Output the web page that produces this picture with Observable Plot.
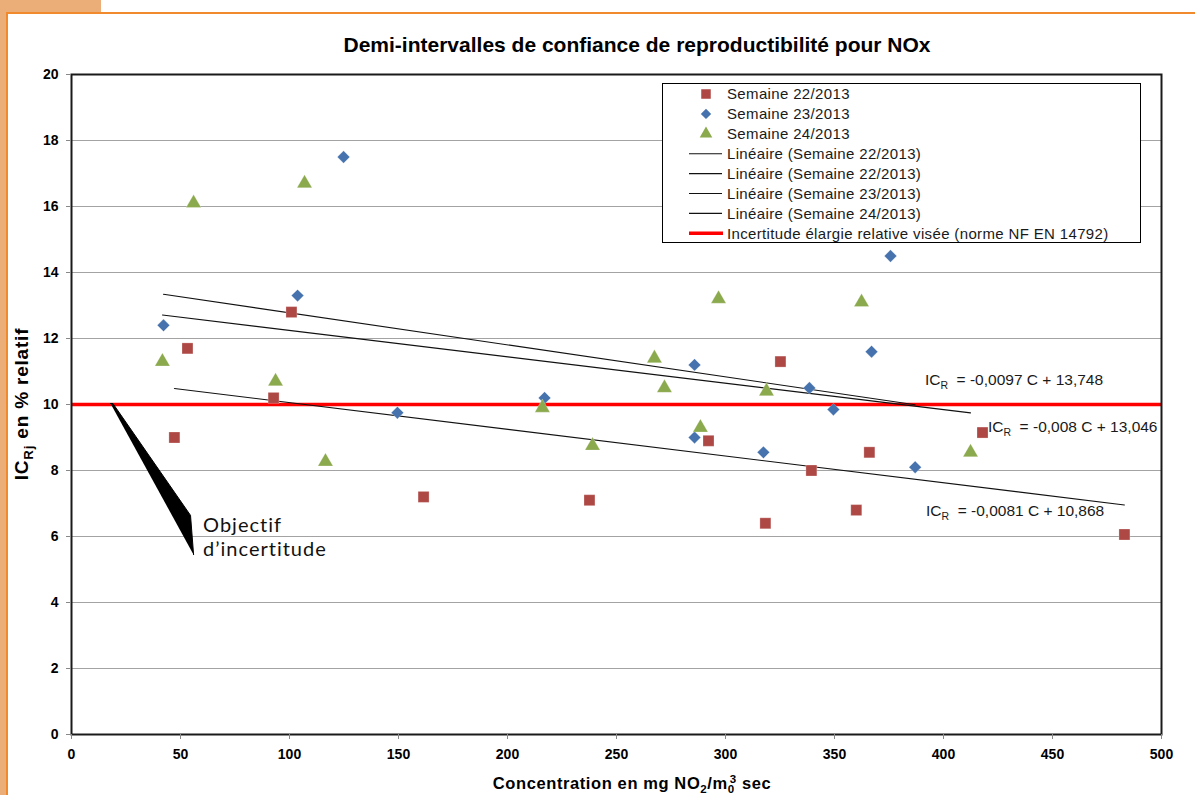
<!DOCTYPE html>
<html>
<head>
<meta charset="utf-8">
<script src="https://cdn.jsdelivr.net/npm/d3@7"></script>
<script src="https://cdn.jsdelivr.net/npm/@observablehq/plot@0.6"></script>
<style>
  body { margin: 0; background: #fff; }
  #wrap { position: relative; width: 1195px; height: 795px; overflow: hidden; background: #fff;
          font-family: "Liberation Sans", Arial, sans-serif; color: #000; }
  .dec { position: absolute; }
  #chart { position: absolute; left: 0; top: 0; }
  #title { position: absolute; left: 287px; width: 700px; top: 33px; text-align: center;
           font-weight: bold; font-size: 21px; line-height: 24px; white-space: nowrap; }
  #xlabel { position: absolute; left: 382px; width: 500px; top: 772px; text-align: center;
            font-weight: bold; font-size: 16.5px; letter-spacing: 0.6px; line-height: 22px; white-space: nowrap; }
  #ylabel { position: absolute; left: -128px; top: 393px; width: 300px; height: 22px; line-height: 22px;
            text-align: center; font-weight: bold; font-size: 19px; letter-spacing: 0.8px;
            transform: rotate(-90deg); white-space: nowrap; }
  sub, sup { font-size: 70%; line-height: 0; }
</style>
</head>
<body>
<div id="wrap">
  <div class="dec" style="left:0;top:0;width:101px;height:13px;background:#EBAE78"></div>
  <div class="dec" style="left:0;top:0;width:6px;height:795px;background:#EBAE78"></div>
  <div class="dec" style="left:6px;top:12px;width:1189px;height:2px;background:#F08A2C"></div>
  <div class="dec" style="left:6px;top:12px;width:2px;height:783px;background:#F08A2C"></div>
  <div id="chart"></div>
  <div id="title">Demi-intervalles de confiance de reproductibilité pour NOx</div>
  <div id="xlabel">Concentration en mg NO<sub>2</sub>/m<sub>0</sub><sup style="margin-left:-0.45em">3</sup> sec</div>
  <div id="ylabel">IC<sub>Rj</sub> en % relatif</div>
</div>
<script>
// ---- Data ----
const c22  = [47.2, 53.2, 92.7, 100.9, 161.5, 237.6, 292.2, 318.3, 325.2, 339.4, 360.0, 366.0, 417.9, 483.0];
const ic22 = [9.0, 11.7, 10.2, 12.8, 7.2, 7.1, 8.9, 6.4, 11.3, 8.0, 6.8, 8.55, 9.15, 6.06];
const c23  = [42.2, 103.7, 124.8, 149.5, 217.0, 285.8, 285.8, 317.4, 338.5, 349.5, 367.0, 375.7, 387.0];
const ic23 = [12.4, 13.3, 17.5, 9.75, 10.2, 11.2, 9.0, 8.55, 10.5, 9.85, 11.6, 14.5, 8.1];
const c24  = [41.7, 56.0, 93.6, 106.9, 116.5, 216.0, 239.0, 267.4, 272.0, 288.5, 296.8, 318.8, 362.4, 412.4];
const ic24 = [11.3, 16.1, 10.7, 16.7, 8.27, 9.9, 8.75, 11.4, 10.5, 9.3, 13.2, 10.4, 13.1, 8.55];

const seriesNames = ["Semaine 22/2013", "Semaine 23/2013", "Semaine 24/2013"];
const trendSlope = [-0.0081, -0.0097, -0.008];
const trendIntercept = [10.868, 13.748, 13.046];
const eqLabels = ["-0,0081 C + 10,868", "-0,0097 C + 13,748", "-0,008 C + 13,046"];
const eqC  = [392.2, 391.7, 420.6];
const eqIC = [6.6, 10.58, 9.15];

const target = 10;
const xTicks = [0, 50, 100, 150, 200, 250, 300, 350, 400, 450, 500];
const yTicks = [0, 2, 4, 6, 8, 10, 12, 14, 16, 18, 20];
const gridY = [2, 4, 6, 8, 10, 12, 14, 16, 18];

const calloutC  = [17.9, 19.0, 54.6, 56.0];
const calloutIC = [10.03, 10.03, 6.64, 5.45];
const calloutText = ["Objectif", "d\u2019incertitude"];

const legendLabels = ["Semaine 22/2013", "Semaine 23/2013", "Semaine 24/2013",
  "Linéaire (Semaine 22/2013)", "Linéaire (Semaine 22/2013)", "Linéaire (Semaine 23/2013)",
  "Linéaire (Semaine 24/2013)", "Incertitude élargie relative visée (norme NF EN 14792)"];

const colors = ["#AE4845", "#4673AE", "#8BA94D"];

// ---- Tables ----
const pts = (cs, ics, s) => cs.map((c, i) => ({c, ic: ics[i], s}));
const d22 = pts(c22, ic22, seriesNames[0]);
const d23 = pts(c23, ic23, seriesNames[1]);
const d24 = pts(c24, ic24, seriesNames[2]);
const allC = [c22, c23, c24];
const trend = [];
seriesNames.forEach((s, i) => {
  const lo = d3.min(allC[i]), hi = d3.max(allC[i]);
  [lo, hi].forEach(c => trend.push({s, c, ic: trendIntercept[i] + trendSlope[i] * c}));
});
const callout = calloutC.map((c, i) => ({c, ic: calloutIC[i]}));

const chart = Plot.plot({
  width: 1195, height: 795,
  marginLeft: 71, marginRight: 34, marginTop: 74, marginBottom: 61,
  x: {domain: [0, 500]},
  y: {domain: [0, 20]},
  style: {fontFamily: "'Liberation Sans', Arial, sans-serif", fontSize: "14px", fontWeight: "bold",
          background: "transparent", color: "#000", overflow: "visible"},
  marks: [
    Plot.ruleY(gridY, {stroke: "#a3a3a3", strokeWidth: 1.2}),
    Plot.ruleY([target], {stroke: "#ff0000", strokeWidth: 3.4}),
    Plot.line(trend, {x: "c", y: "ic", z: "s", stroke: "#111", strokeWidth: 1.1}),
    Plot.line(callout, {x: "c", y: "ic", fill: "#000", stroke: "#000", strokeWidth: 1}),
    Plot.dot(d22, {x: "c", y: "ic", symbol: "square", r: 6.2, fill: colors[0], stroke: "#fff", strokeOpacity: 0.5, strokeWidth: 0.5}),
    Plot.dot(d23, {x: "c", y: "ic", symbol: "diamond2", r: 5.6, fill: colors[1], stroke: "#fff", strokeOpacity: 0.5, strokeWidth: 0.5}),
    Plot.dot(d24, {x: "c", y: "ic", symbol: "triangle", r: 5.6, fill: colors[2], stroke: "#fff", strokeOpacity: 0.5, strokeWidth: 0.5}),
    Plot.frame({stroke: "#1a1a1a", strokeWidth: 2}),
    Plot.axisX({ticks: xTicks, tickFormat: d => String(d), tickSize: 5, tickPadding: 10, stroke: "#888", label: null}),
    Plot.axisY({ticks: yTicks, tickFormat: d => String(d), tickSize: 5, tickPadding: 8, stroke: "#888", label: null})
  ]
});
document.getElementById("chart").appendChild(chart);

const sx = chart.scale("x"), sy = chart.scale("y");
const svg = d3.select(chart);

// Equations of trend lines
const eq = svg.append("g").attr("text-anchor", "start")
  .style("font-family", "'Liberation Sans', Arial, sans-serif")
  .style("font-size", "15.5px").style("font-weight", "normal").attr("fill", "#1a1a1a");
eqLabels.forEach((t, i) => {
  const tx = eq.append("text").attr("x", sx.apply(eqC[i])).attr("y", sy.apply(eqIC[i]));
  tx.append("tspan").text("IC");
  tx.append("tspan").style("font-size", "10.5px").attr("dy", 4).text("R");
  tx.append("tspan").attr("dy", -4).text("  = " + t);
});

// Callout text
const ct = svg.append("g").attr("text-anchor", "start")
  .style("font-family", "Lato, 'DejaVu Sans', sans-serif")
  .style("font-size", "20px").style("letter-spacing", "1px")
  .style("font-weight", "normal").attr("fill", "#111");
calloutText.forEach((t, i) => {
  ct.append("text").attr("x", sx.apply(calloutC[3]) + 10).attr("y", sy.apply(calloutIC[2]) + 17 + i * 24.5).text(t);
});

// Legend
const lg = svg.append("g").attr("text-anchor", "start")
  .style("font-family", "'Liberation Sans', Arial, sans-serif")
  .style("font-size", "15px").style("font-weight", "normal").style("letter-spacing", "0.35px");
lg.append("rect").attr("x", 662.5).attr("y", 83.5).attr("width", 478).attr("height", 159)
  .attr("fill", "#fff").attr("stroke", "#000").attr("stroke-width", 1);
const rowY = i => 94 + i * 19.9;
const syms = [d3.symbolSquare, d3.symbolDiamond2, d3.symbolTriangle];
const symSize = [6.2, 5.4, 5.4];
legendLabels.forEach((t, i) => {
  const y = rowY(i);
  if (i < 3) {
    lg.append("path").attr("transform", `translate(706,${y})`)
      .attr("d", d3.symbol(syms[i], Math.PI * symSize[i] * symSize[i] * 0.75)())
      .attr("fill", colors[i]);
  } else if (i < 7) {
    lg.append("line").attr("x1", 689).attr("x2", 722).attr("y1", y).attr("y2", y)
      .attr("stroke", "#111").attr("stroke-width", 1.1);
  } else {
    lg.append("line").attr("x1", 689).attr("x2", 723).attr("y1", y).attr("y2", y)
      .attr("stroke", "#ff0000").attr("stroke-width", 3.4);
  }
  lg.append("text").attr("x", 727).attr("y", y).attr("dy", "0.36em").attr("fill", "#1a1a1a").text(t);
});
</script>
</body>
</html>
